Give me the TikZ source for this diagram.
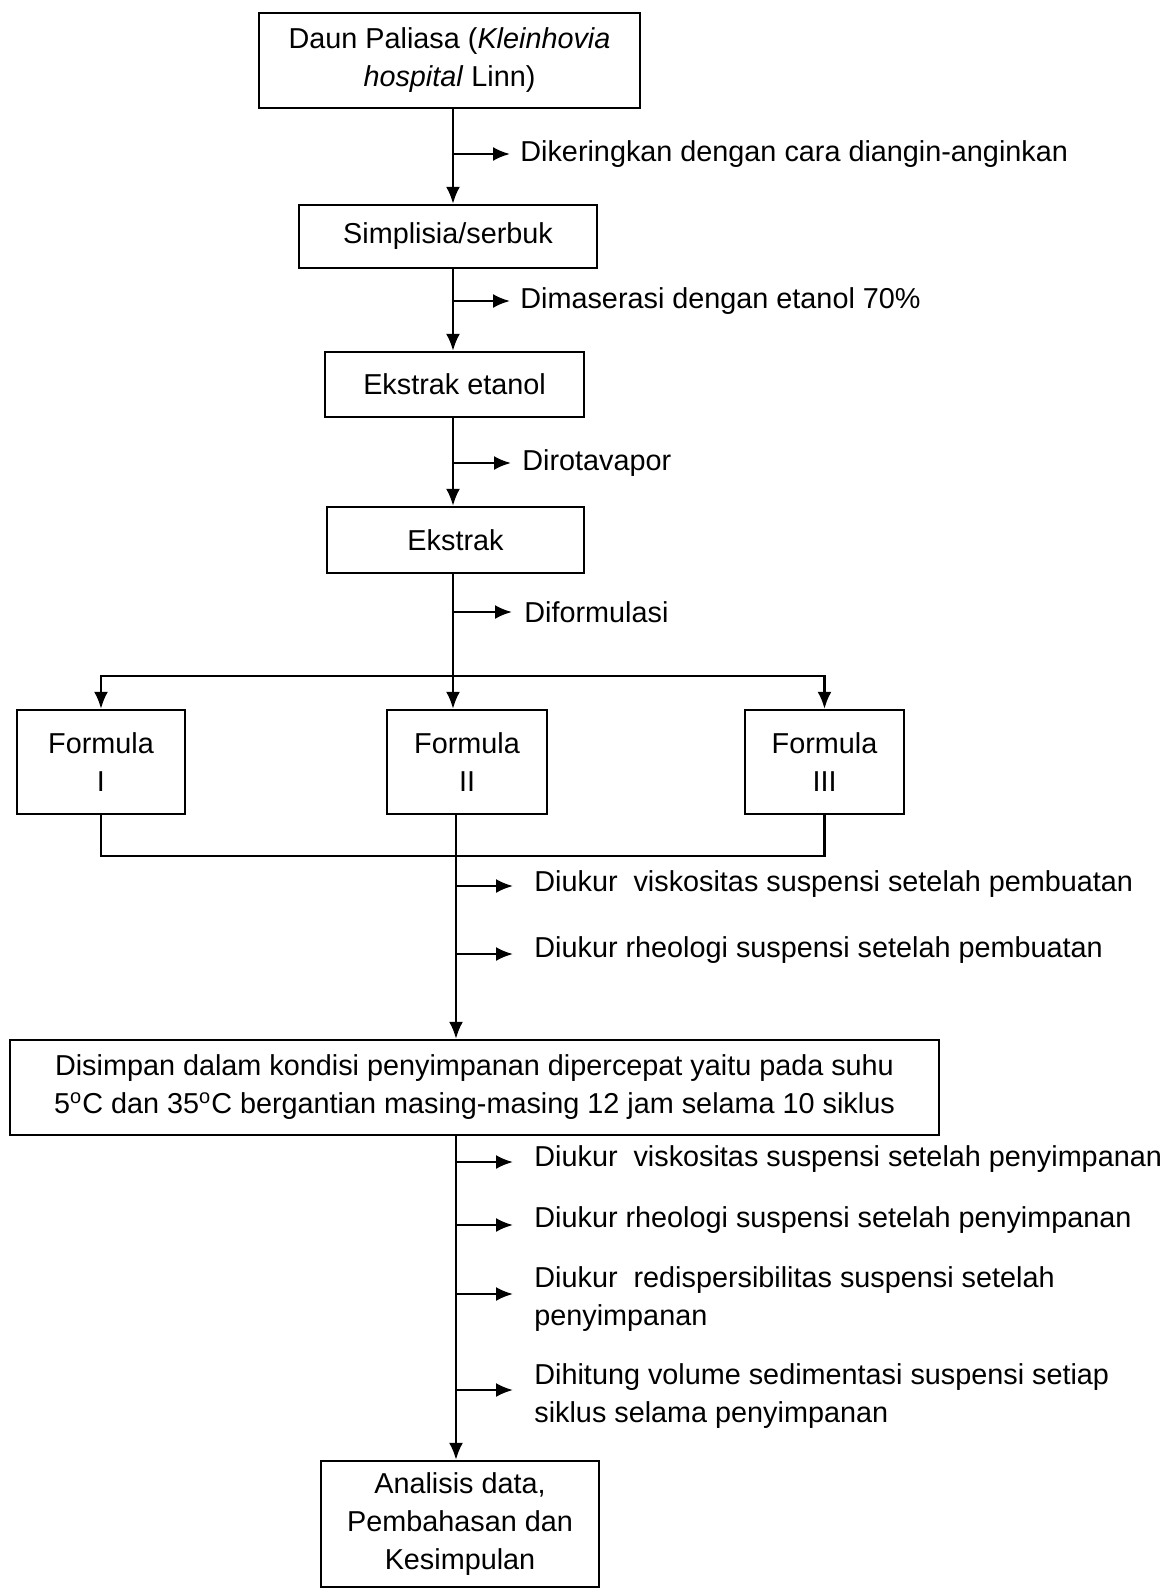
\documentclass[tikz,border=0pt]{standalone}
\usepackage{fontspec}
\setmainfont{Liberation Sans}
\usetikzlibrary{arrows.meta}
\newcommand\fs{\fontsize{14.4}{19}\selectfont}
\begin{document}
\begin{tikzpicture}[x=0.5pt,y=-0.5pt,
  box/.style={draw,line width=1.2pt,align=center,inner sep=0pt,font=\fs},
  lbl/.style={anchor=west,align=left,inner sep=0pt,font=\fs},
  arr/.style={line width=1.2pt,-{Latex[length=8.5pt,width=7pt]}},
  ln/.style={line width=1.2pt}]
\useasboundingbox (0,0) rectangle (1170,1591);
% boxes
\node[box,minimum width=190.5pt,minimum height=47.5pt] (b1) at (449.5,60.5) {Daun Paliasa (\textit{Kleinhovia}\\\textit{hospital} Linn)};
\node[box,minimum width=149pt,minimum height=31.5pt] (b2) at (448,236.5) {Simplisia/serbuk};
\node[box,minimum width=129.5pt,minimum height=32.5pt] (b3) at (454.5,384.5) {Ekstrak etanol};
\node[box,minimum width=128.5pt,minimum height=33pt] (b4) at (455.5,540) {Ekstrak};
\node[box,minimum width=84pt,minimum height=52pt] (f1) at (101,762) {Formula\\I};
\node[box,minimum width=80pt,minimum height=52pt] (f2) at (467,762) {Formula\\II};
\node[box,minimum width=79.5pt,minimum height=52pt] (f3) at (824.5,762) {Formula\\III};
\node[box,minimum width=464.5pt,minimum height=47.5pt] (b5) at (474.5,1087.5) {Disimpan dalam kondisi penyimpanan dipercepat yaitu pada suhu\\5\textsuperscript{o}C dan 35\textsuperscript{o}C bergantian masing-masing 12 jam selama 10 siklus};
\node[box,minimum width=139pt,minimum height=63pt] (b6) at (460,1524) {Analisis data,\\Pembahasan dan\\Kesimpulan};
% trunk coordinates
\coordinate (T) at (453,0);
\coordinate (D) at (453,676);
\coordinate (C) at (456,856);
% main connectors
\draw[arr] (b1.south -| T) -- (b2.north -| T);
\draw[arr] (b2.south -| T) -- (b3.north -| T);
\draw[arr] (b3.south -| T) -- (b4.north -| T);
\draw[arr] (b4.south -| T) -- (f2.north -| T);
\draw[arr] (D) -| (f1.north);
\draw[arr] (D) -| (f3.north);
\draw[ln] (f1.south) |- (C) -| (f3.south);
\draw[arr] (f2.south -| C) -- (b5.north -| C);
\draw[arr] (b5.south -| C) -- (b6.north -| C);
% side labels
\node[lbl] (t1) at (520,154) {Dikeringkan dengan cara diangin-anginkan};
\node[lbl] (t2) at (520,301) {Dimaserasi dengan etanol 70\%};
\node[lbl] (t3) at (522,463) {Dirotavapor};
\node[lbl] (t4) at (524,612) {Diformulasi};
\node[lbl] (t5) at (534,884) {Diukur\ \ viskositas suspensi setelah pembuatan};
\node[lbl] (t6) at (534,950) {Diukur rheologi suspensi setelah pembuatan};
\node[lbl] (t7) at (534,1159) {Diukur\ \ viskositas suspensi setelah penyimpanan};
\node[lbl] (t8) at (534,1220) {Diukur rheologi suspensi setelah penyimpanan};
\node[lbl] (t9) at (534,1299) {Diukur\ \ redispersibilitas suspensi setelah\\penyimpanan};
\node[lbl] (t10) at (534,1396) {Dihitung volume sedimentasi suspensi setiap\\siklus selama penyimpanan};
% side arrows
\coordinate (s1) at (453,154);  \coordinate (e1) at (510,154);
\coordinate (s2) at (453,301);  \coordinate (e2) at (510,301);
\coordinate (s3) at (453,463);  \coordinate (e3) at (511,463);
\coordinate (s4) at (453,612);  \coordinate (e4) at (512,612);
\coordinate (s5) at (456,886);  \coordinate (e5) at (513,886);
\coordinate (s6) at (456,954);  \coordinate (e6) at (513,954);
\coordinate (s7) at (456,1162); \coordinate (e7) at (513,1162);
\coordinate (s8) at (456,1225); \coordinate (e8) at (513,1225);
\coordinate (s9) at (456,1294); \coordinate (e9) at (513,1294);
\coordinate (s10) at (456,1390); \coordinate (e10) at (513,1390);
\foreach \i in {1,...,10} {\draw[arr] (s\i) -- (e\i);}
\end{tikzpicture}
\end{document}
